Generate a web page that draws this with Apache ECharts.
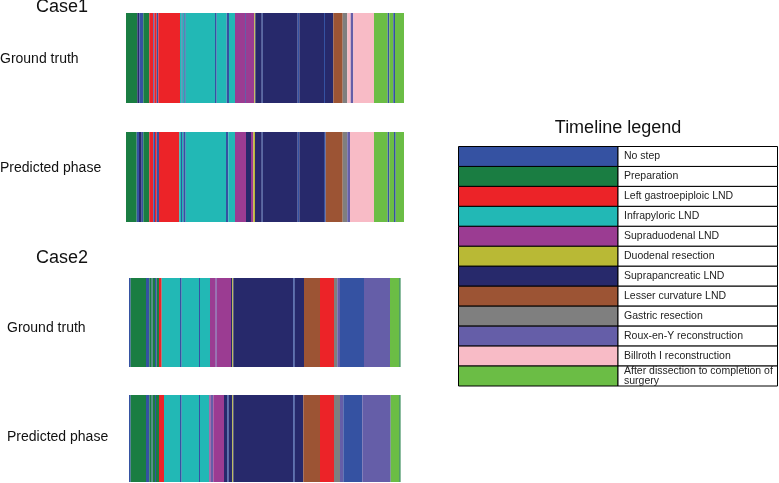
<!DOCTYPE html>
<html><head><meta charset="utf-8">
<script src="https://cdn.jsdelivr.net/npm/echarts@6/dist/echarts.min.js"></script>
<style>html,body{margin:0;padding:0;background:#fff}#c{width:779px;height:483px}</style>
</head><body><div id="c"></div>
<script>
// Phase names (legend) and their colours
const phaseNames = ['No step','Preparation','Left gastroepiploic LND','Infrapyloric LND','Supraduodenal LND','Duodenal resection','Suprapancreatic LND','Lesser curvature LND','Gastric resection','Roux-en-Y reconstruction','Billroth I reconstruction','After dissection to completion of surgery'];
const phaseColors = ['#3552a2','#1a7d42','#ec2328','#22b8b5','#9b3c92','#b9b935','#27296b','#9c5434','#7f7f7f','#655ea8','#f8bbc6','#6bbd45'];

// Timelines: [phase index, duration]
const case1Truth = [[1,11.3],[6,2],[0,4],[1,6],[2,4],[0,1],[2,2.4],[0,1.6],[2,21.7],[3,1.7],[0,1],[3,1.6],[0,1.4],[3,29.3],[0,1.7],[3,10],[0,2.3],[3,6],[4,10],[9,1],[4,8.3],[5,1],[6,6.4],[0,1],[6,35],[0,1.6],[6,24.7],[0,1],[6,8.3],[7,9.4],[8,4.6],[10,3.4],[9,2.6],[10,20.7],[11,13.7],[0,1.6],[11,4],[0,1.7],[11,9]];
const case1Pred = [[1,10.7],[0,2.3],[6,2.7],[0,1.6],[1,6],[2,4],[0,1.7],[2,1.7],[0,2.3],[2,20.3],[3,1.7],[0,1],[3,1.3],[0,2.4],[3,40.3],[0,2.3],[3,6.7],[4,11],[6,5],[4,2.3],[5,1.7],[6,6.7],[0,1],[6,35],[0,1.6],[6,24.7],[0,1.7],[7,17],[8,4.6],[9,2.7],[10,24],[11,13.7],[0,1.6],[11,4.7],[0,1.7],[11,8.3]];
const case2Truth = [[0,1.7],[1,15.3],[0,3.3],[1,2.4],[0,0.8],[1,2.5],[0,1.7],[1,2.3],[2,2.7],[3,18.3],[0,1.7],[3,17.3],[0,1],[3,10],[4,5.7],[9,1],[4,14.3],[6,1.3],[5,1],[6,60],[0,1.4],[6,9.3],[7,16],[2,14],[8,3.3],[9,2.7],[0,24],[9,26],[11,9.3],[1,1.2]];
const case2Pred = [[0,1.7],[1,15.3],[0,3.3],[1,2.4],[0,0.8],[1,2.5],[0,1],[1,3],[2,5],[3,16],[0,1.7],[3,17.3],[0,1],[3,9.3],[4,1.4],[9,2.6],[4,10.7],[6,3.3],[0,1.4],[6,3.6],[5,1],[6,60],[0,1.4],[6,8.6],[7,16.7],[2,14],[8,6],[9,3.3],[0,19],[9,28.4],[11,8.6],[1,1.2]];

const timelines = [case1Truth, case1Pred, case2Truth, case2Pred];
const gridBoxes = [
  {left:126, top:13, width:278, height:90},
  {left:126, top:132, width:278, height:90},
  {left:129, top:278, width:271.5, height:89},
  {left:129, top:395, width:271.5, height:87}
];

function toSegments(tl){
  let t = 0; const out = [];
  tl.forEach(([p,d]) => { out.push([t, t+d, p]); t += d; });
  return {data: out, total: t};
}

const FONT = 'Liberation Sans';
const grids = [], xAxes = [], yAxes = [], series = [];
timelines.forEach((tl, i) => {
  const s = toSegments(tl);
  grids.push(Object.assign({containLabel:false}, gridBoxes[i]));
  xAxes.push({type:'value', gridIndex:i, min:0, max:s.total, show:false});
  yAxes.push({type:'category', gridIndex:i, data:['t'], show:false});
  series.push({
    type:'custom', xAxisIndex:i, yAxisIndex:i, data:s.data, silent:true,
    renderItem:(params, api) => {
      const a = api.coord([api.value(0), 0]);
      const b = api.coord([api.value(1), 0]);
      const h = api.size([0,1])[1];
      return {type:'rect', shape:{x:a[0], y:a[1]-h/2, width:b[0]-a[0], height:h},
        style:{fill:phaseColors[api.value(2)]}};
    }
  });
});

// Legend table grid
const li = timelines.length;
grids.push({left:458.5, top:146.5, width:319, height:239.5});
xAxes.push({type:'value', gridIndex:li, min:0, max:1, show:false});
yAxes.push({type:'category', gridIndex:li, data:phaseNames, inverse:true, show:false});
series.push({
  type:'custom', xAxisIndex:li, yAxisIndex:li, silent:true,
  data: phaseNames.map((n,k)=>[k]),
  renderItem:(params, api) => {
    const k = api.value(0);
    const a = api.coord([0, k]);
    const m = api.coord([0.5, k]);
    const b = api.coord([1, k]);
    const h = api.size([0,1])[1];
    const y0 = a[1]-h/2;
    return {type:'group', children:[
      {type:'rect', shape:{x:a[0], y:y0, width:m[0]-a[0], height:h}, style:{fill:phaseColors[k], stroke:'#000', lineWidth:1}},
      {type:'rect', shape:{x:m[0], y:y0, width:b[0]-m[0], height:h}, style:{fill:'#fff', stroke:'#000', lineWidth:1}},
      {type:'text', x:m[0]+6, y:a[1], style:{text:phaseNames[k], fill:'#222', font:'10.5px "'+FONT+'"', verticalAlign:'middle', align:'left', width:152, overflow:'break', lineHeight:10}}
    ]};
  }
});

const labelStyle = (t, x, y, size, align) => ({type:'text', x:x, y:y, style:{text:t, fill:'#111', font:size+'px "'+FONT+'"', textAlign:align||'left', textVerticalAlign:'middle'}});

const chart = echarts.init(document.getElementById('c'), null, {renderer:'canvas'});
chart.setOption({
  animation:false,
  backgroundColor:'#fff',
  grid:grids, xAxis:xAxes, yAxis:yAxes, series:series,
  graphic:[
    labelStyle('Case1', 62, 7, 18, 'center'),
    labelStyle('Ground truth', 0, 59, 14),
    labelStyle('Predicted phase', 0, 168, 14),
    labelStyle('Case2', 62, 258, 18, 'center'),
    labelStyle('Ground truth', 7, 328, 14),
    labelStyle('Predicted phase', 7, 437, 14),
    labelStyle('Timeline legend', 618, 128, 18, 'center')
  ]
});
</script></body></html>
